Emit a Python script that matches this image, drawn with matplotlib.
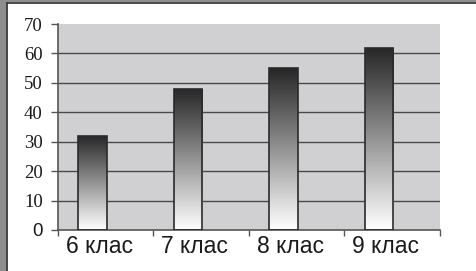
import matplotlib.pyplot as plt
import numpy as np
from matplotlib.patches import Rectangle
from matplotlib.colors import LinearSegmentedColormap

# дані
classes = ["6 клас", "7 клас", "8 клас", "9 клас"]
values = [32, 48, 55, 62]
y_ticks = [0, 10, 20, 30, 40, 50, 60, 70]

fig = plt.figure(figsize=(4.77, 2.71), dpi=100)
fig.patch.set_facecolor("white")

# сіра смуга зліва та зверху + темна рамка
fig.patches.append(Rectangle((0, 0), 7 / 477, 1, transform=fig.transFigure,
                             facecolor="#8e8e8e", edgecolor="none", zorder=0))
fig.patches.append(Rectangle((0, 1 - 2 / 271), 1, 2 / 271, transform=fig.transFigure,
                             facecolor="#8e8e8e", edgecolor="none", zorder=0))
fig.add_artist(plt.Line2D([7.5 / 477, 7.5 / 477], [0, 1 - 2.5 / 271],
                          transform=fig.transFigure, color="#3a3a3a", lw=1.3))
fig.add_artist(plt.Line2D([7.5 / 477, 1], [1 - 2.5 / 271, 1 - 2.5 / 271],
                          transform=fig.transFigure, color="#3a3a3a", lw=1.3))

ax = fig.add_axes([58 / 477, 1 - 230 / 271, (440 - 58) / 477, (230 - 24) / 271])
ax.set_facecolor("#d0d0d2")

# сітка
for y in y_ticks[1:-1]:
    ax.axhline(y, color="#4a4a4a", lw=1.0, zorder=1)

x = np.arange(len(classes))
bars = ax.bar(x - 0.14, values, width=0.30, facecolor="none",
              edgecolor="#2a2a2a", lw=1.2, zorder=3)

# градієнт у стовпчиках
cmap = LinearSegmentedColormap.from_list("g", ["#ffffff", "#b8b8b8", "#6e6e6e", "#262626"])
grad = np.linspace(0, 1, 256).reshape(-1, 1)
for b in bars:
    bx, by = b.get_x(), b.get_y()
    w, h = b.get_width(), b.get_height()
    im = ax.imshow(grad, extent=[bx, bx + w, by, by + h], origin="lower",
                   cmap=cmap, aspect="auto", zorder=2)
    im.set_clip_path(b)
ax.set_xlim(-0.5, len(classes) - 0.5)
ax.set_ylim(0, 70)

# осі
for s in ["top", "right"]:
    ax.spines[s].set_visible(False)
for s in ["left", "bottom"]:
    ax.spines[s].set_color("#555555")
    ax.spines[s].set_linewidth(1.2)

ax.set_yticks(y_ticks)
ax.set_yticklabels([str(v) for v in y_ticks], family="Liberation Serif", fontsize=13.5,
                   color="#1a1a1a")
ax.get_yticklabels()[0].set_family("Liberation Sans")
ax.tick_params(axis="y", length=5, width=1, color="#555555", pad=6)

ax.set_xticks(np.arange(len(classes) + 1) - 0.5)
ax.set_xticklabels([])
ax.tick_params(axis="x", length=4, width=1, color="#555555")
for i, c in enumerate(classes):
    ax.text(i - 0.07, -1.6, c, ha="center", va="top", family="Liberation Sans",
            fontsize=16.5, color="#1a1a1a")

fig.savefig("out.png", dpi=100)
